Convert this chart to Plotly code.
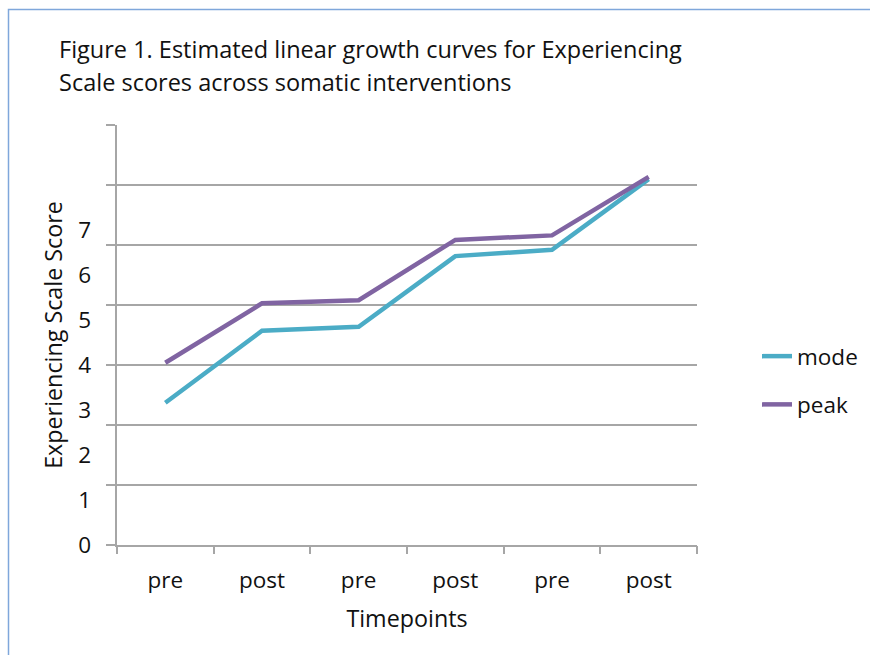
import plotly.graph_objects as go

# Estimated growth-curve values at each timepoint
timepoints = ["pre", "post", "pre", "post", "pre", "post"]
mode_scores = [3.16, 4.76, 4.85, 6.42, 6.56, 8.13]
peak_scores = [4.05, 5.37, 5.44, 6.78, 6.88, 8.18]

# Axis labelling
score_ticks = [0, 1, 2, 3, 4, 5, 6, 7]
grid_step = 4 / 3
grid_vals = [i * grid_step for i in range(8)]
y_max = 7 * grid_step

positions = list(range(len(timepoints)))
boundaries = [p - 0.5 for p in positions] + [positions[-1] + 0.5]

FONT = "Open Sans"
TICK_FS = 22.5
AXIS_FS = 23.3
CAPTION_FS = 23.5
GRAY = "#A6A6A6"
TEXT = "#111111"

fig = go.Figure()
fig.add_trace(go.Scatter(
    x=positions, y=mode_scores, name="mode", mode="lines",
    line=dict(color="#4BACC6", width=4.5), legendgroup="a",
))
fig.add_trace(go.Scatter(
    x=positions, y=peak_scores, name="peak", mode="lines",
    line=dict(color="#8064A2", width=4.5), legendgroup="b",
))
# Empty trace so the overlaid label/tick axes get rendered
fig.add_trace(go.Scatter(
    x=[None], y=[None], xaxis="x2", yaxis="y2",
    showlegend=False, hoverinfo="skip",
))

L, R, T, B = 117, 870 - 697, 125, 655 - 545
W, H = 870 - L - R, 655 - T - B


def px(x):
    return (x - L) / W


def py(y):
    return (T + H - y) / H


fig.update_layout(
    width=870, height=655,
    margin=dict(l=L, r=R, t=T, b=B, autoexpand=False),
    paper_bgcolor="white", plot_bgcolor="white",
    font=dict(family=FONT, size=AXIS_FS, color=TEXT),
    xaxis=dict(
        range=[-0.5, len(timepoints) - 0.5],
        tickmode="array", tickvals=positions, ticktext=timepoints,
        tickfont=dict(size=TICK_FS),
        ticks="", showgrid=False, zeroline=False,
        showline=True, linecolor=GRAY, linewidth=1.5,
        ticklabelstandoff=14,
        title=dict(text="Timepoints", standoff=17, font=dict(size=AXIS_FS)),
    ),
    xaxis2=dict(
        overlaying="x", anchor="y", side="bottom",
        range=[-0.5, len(timepoints) - 0.5],
        tickmode="array", tickvals=boundaries,
        ticks="outside", ticklen=8, tickwidth=1.5, tickcolor=GRAY,
        showticklabels=False, showgrid=False, showline=False, zeroline=False,
    ),
    yaxis=dict(
        range=[0, y_max],
        tickmode="array", tickvals=grid_vals, showticklabels=False,
        ticks="outside", ticklen=9, tickwidth=1.5, tickcolor=GRAY,
        showgrid=True, gridcolor=GRAY, gridwidth=1.5,
        showline=True, linecolor=GRAY, linewidth=1.5, zeroline=False,
    ),
    yaxis2=dict(
        overlaying="y", anchor="x", side="left",
        range=[0, y_max],
        tickmode="array", tickvals=score_ticks,
        tickfont=dict(size=TICK_FS),
        ticks="", showgrid=False, showline=False, zeroline=False,
        ticklabelstandoff=25,
        title=dict(text="Experiencing Scale Score", standoff=8,
                   font=dict(size=AXIS_FS)),
    ),
    legend=dict(
        x=px(757), y=py(335), xanchor="left", yanchor="top",
        bgcolor="rgba(0,0,0,0)", tracegroupgap=16,
        traceorder="grouped", font=dict(family=FONT, size=TICK_FS, color=TEXT),
    ),
    showlegend=True,
)

# Figure caption
fig.add_annotation(
    text="Figure 1. Estimated linear growth curves for Experiencing",
    xref="paper", yref="paper", x=px(57), y=py(49),
    xanchor="left", yanchor="middle", showarrow=False,
    font=dict(family=FONT, size=CAPTION_FS, color=TEXT),
)
fig.add_annotation(
    text="Scale scores across somatic interventions",
    xref="paper", yref="paper", x=px(57), y=py(82),
    xanchor="left", yanchor="middle", showarrow=False,
    font=dict(family=FONT, size=CAPTION_FS, color=TEXT),
)

# Chart frame (left and top edges)
fig.add_shape(
    type="path", xref="paper", yref="paper",
    path=f"M {px(8.5)} {py(655)} L {px(8.5)} {py(9.5)} L {px(870)} {py(9.5)}",
    line=dict(color="#7FA7DB", width=1.5),
)

fig.write_html("out.html")
